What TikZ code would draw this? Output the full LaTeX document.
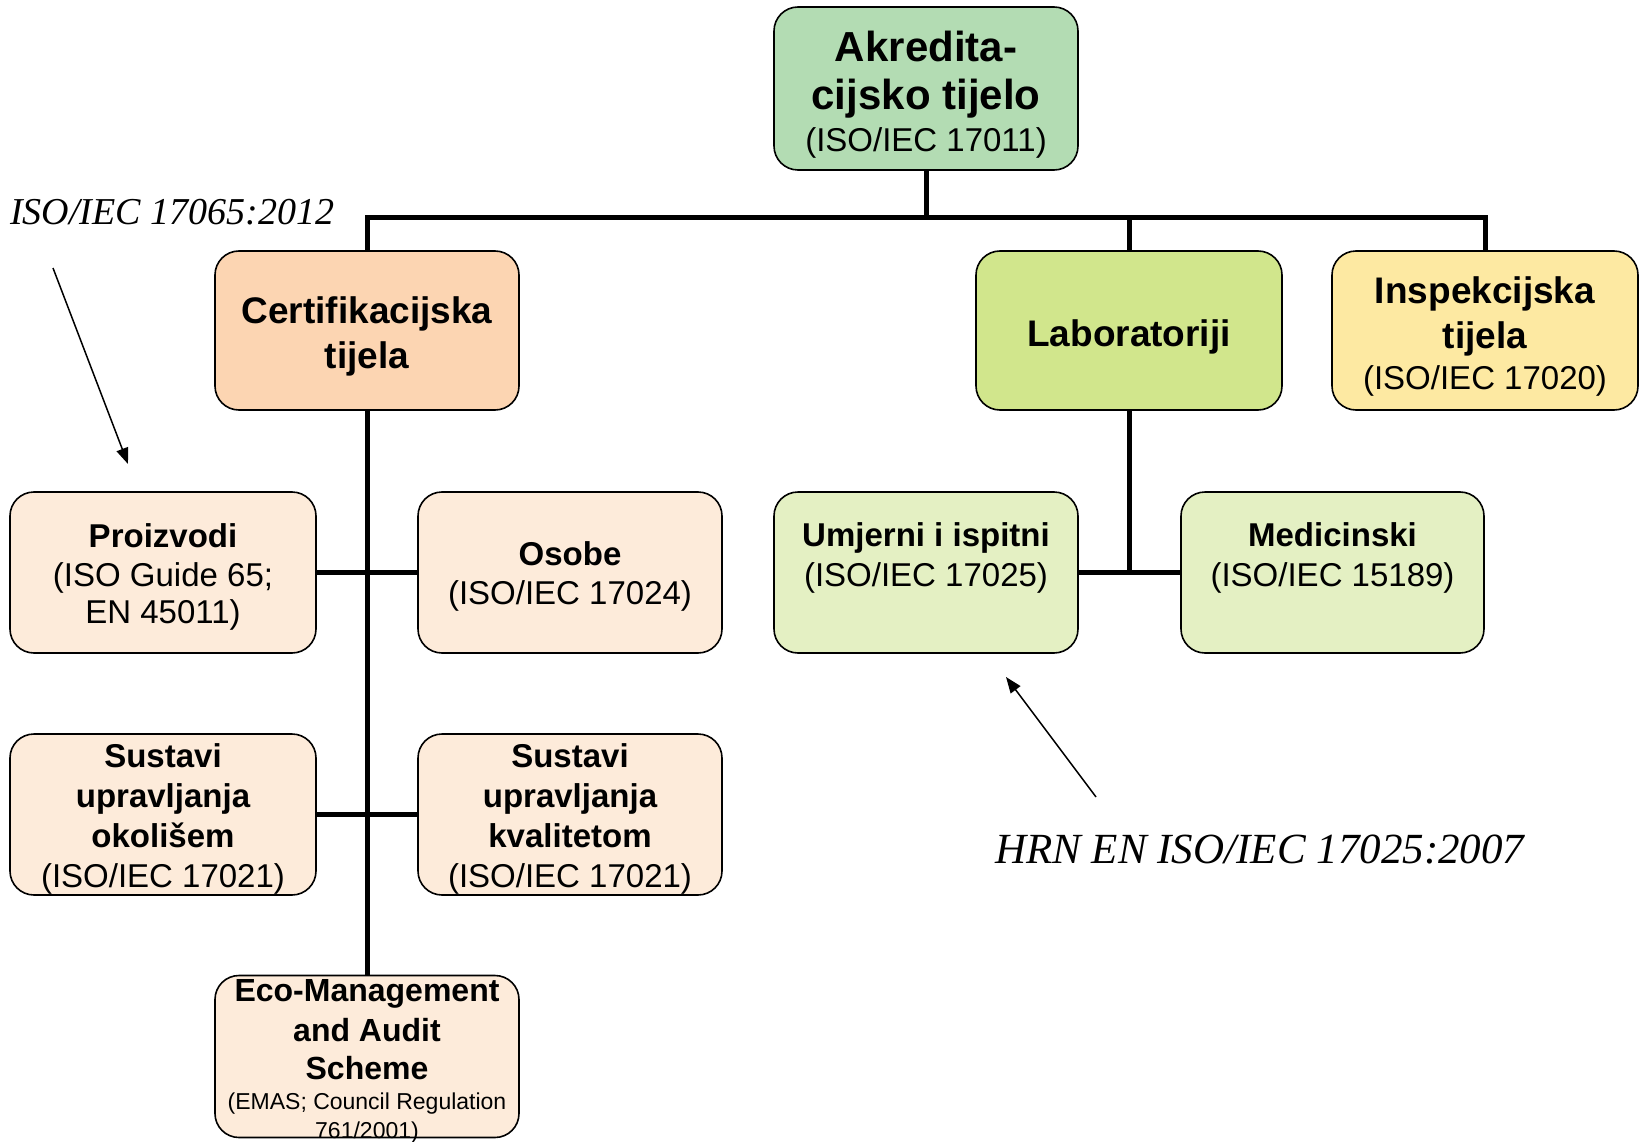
\documentclass[tikz,border=0pt]{standalone}
\usepackage{fontspec}
\setmainfont{Liberation Sans}
\newfontfamily\tnr{Liberation Serif}
\usetikzlibrary{arrows.meta}
\definecolor{cTop}{HTML}{B3DCB3}
\definecolor{cCert}{HTML}{FCD5B2}
\definecolor{cCertL}{HTML}{FDEBDA}
\definecolor{cLab}{HTML}{D1E68C}
\definecolor{cLabL}{HTML}{E4F0C3}
\definecolor{cInsp}{HTML}{FDE9A2}
\newcommand{\topgap}[1]{\rule{0pt}{#1pt}}
\begin{document}
\begin{tikzpicture}[x=1pt,y=-1pt,
  box/.style={draw=black, line width=1.6pt, rounded corners=24pt, align=center,
    inner sep=0pt, minimum width=304pt, minimum height=161pt},
  ttl/.style={font=\fontsize{37}{45}\selectfont\bfseries},
  sml/.style={font=\fontsize{33}{39}\selectfont\bfseries},
  conn/.style={line width=5pt},
  note/.style={line width=1.5pt, -{Triangle[length=16pt,width=12pt]}},
  ital/.style={inner sep=0pt, anchor=base west},
]
\useasboundingbox (0,0) rectangle (1641,1142);

% level 0
\node[box, fill=cTop, minimum height=163pt, font=\fontsize{42}{48}\selectfont\bfseries] (top) at (926,88.5)
  {\topgap{43}Akredita-\\cijsko tijelo\\[-6pt]\fontsize{33}{40}\selectfont\mdseries (ISO/IEC 17011)};

% level 1
\node[box, ttl, fill=cCert, minimum height=159pt] (cert) at (367,330.5) {\topgap{39}Certifikacijska\\tijela};
\node[box, ttl, fill=cLab, minimum width=306pt, minimum height=159pt] (lab) at (1129,330.5) {\topgap{39}Laboratoriji};
\node[box, ttl, fill=cInsp, minimum width=306pt, minimum height=159pt] (insp) at (1485,330.5)
  {\topgap{39}Inspekcijska\\tijela\\[-4pt]\fontsize{33}{40}\selectfont\mdseries (ISO/IEC 17020)};

% certification children
\node[box, sml, fill=cCertL, minimum width=306pt] (proiz) at (163,572.5)
  {\topgap{32}Proizvodi\\\mdseries (ISO Guide 65;\\[-2pt]\mdseries EN 45011)};
\node[box, sml, fill=cCertL] (osobe) at (570,572.5)
  {\topgap{32}Osobe\\\mdseries (ISO/IEC 17024)};
\node[box, sml, fill=cCertL, minimum width=306pt, font=\fontsize{33}{40}\selectfont\bfseries] (okol) at (163,814.5)
  {\topgap{32}Sustavi\\upravljanja\\okolišem\\\mdseries (ISO/IEC 17021)};
\node[box, sml, fill=cCertL, font=\fontsize{33}{40}\selectfont\bfseries] (kval) at (570,814.5)
  {\topgap{32}Sustavi\\upravljanja\\kvalitetom\\\mdseries (ISO/IEC 17021)};
\node[box, fill=cCertL, minimum height=162pt] (eco) at (367,1056.5) {};
\node[align=center, inner sep=0pt, font=\fontsize{32}{40}\selectfont\bfseries] (ecotext) at (367,1061)
  {Eco-Management\\and Audit\\[-2pt]Scheme\\[-10pt]\fontsize{23}{28}\selectfont\mdseries (EMAS; Council Regulation\\[-11pt]\fontsize{23}{28}\selectfont\mdseries 761/2001)};

% laboratory children
\node[box, sml, fill=cLabL, font=\fontsize{33}{40}\selectfont\bfseries] (umj) at (926,572.5)
  {\topgap{28}Umjerni i ispitni\\\mdseries (ISO/IEC 17025)\\\mbox{}};
\node[box, sml, fill=cLabL, minimum width=303pt, font=\fontsize{33}{40}\selectfont\bfseries] (med) at (1332.5,572.5)
  {\topgap{28}Medicinski\\\mdseries (ISO/IEC 15189)\\\mbox{}};

% connectors
\coordinate (bus) at (926,218);
\draw[conn] (top.south) -- (bus);
\draw[conn] (cert.north) -- (cert.north |- bus) -- (insp.north |- bus) -- (insp.north);
\draw[conn] (lab.north) -- (lab.north |- bus);
\draw[conn] (cert.south) -- (eco.north);
\draw[conn] (proiz.east) -- (osobe.west);
\draw[conn] (okol.east) -- (kval.west);
\draw[conn] (lab.south) -- (lab.south |- umj.east);
\draw[conn] (umj.east) -- (med.west);

% annotations
\node[ital, font=\tnr\itshape\fontsize{38}{44}\selectfont] (n1) at (10,225) {ISO/IEC 17065:2012};
\coordinate (a1s) at (53,268);
\coordinate (a1e) at (128,464);
\draw[note] (a1s) -- (a1e);
\node[ital, font=\tnr\itshape\fontsize{43}{50}\selectfont] (n2) at (995,863) {HRN EN ISO/IEC 17025:2007};
\coordinate (a2s) at (1096,797);
\coordinate (a2e) at (1006,677);
\draw[note] (a2s) -- (a2e);
\end{tikzpicture}
\end{document}
